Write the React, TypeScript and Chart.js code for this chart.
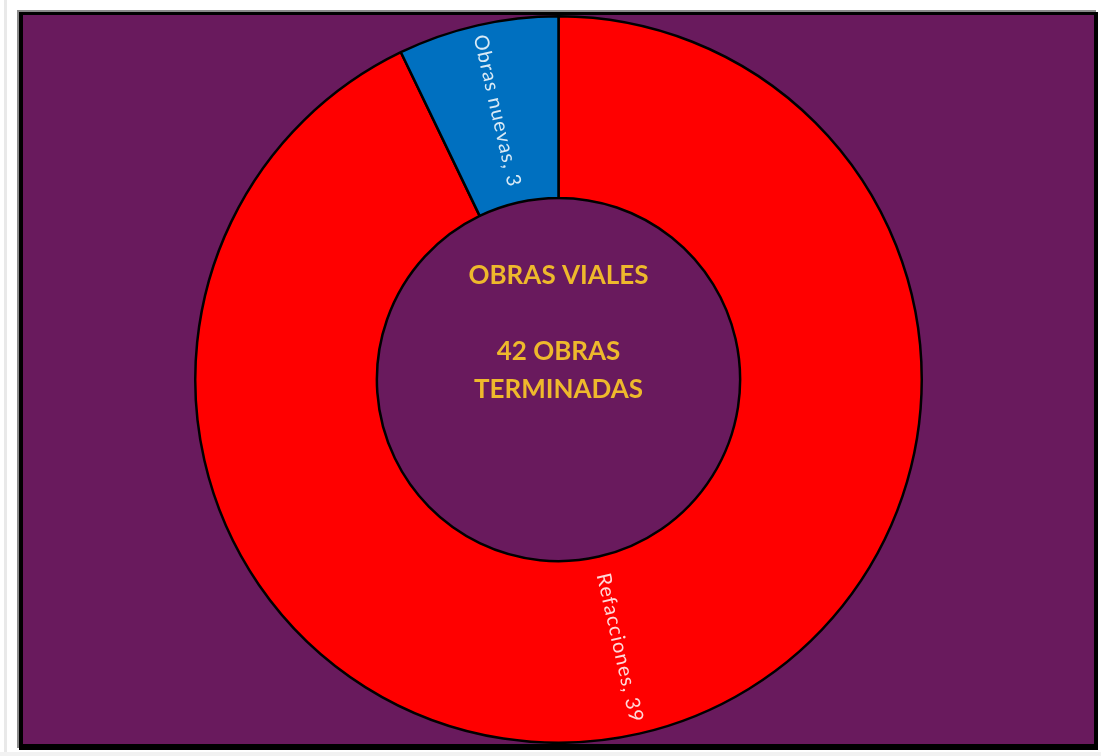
import React, { useEffect, useRef } from "react";
import { Chart, registerables } from "chart.js";

Chart.register(...registerables);

const categories = ["Refacciones", "Obras nuevas"];
const values = [39, 3];
const sliceColors = ["#ff0000", "#0070c0"];
const centerLines = ["OBRAS VIALES", "", "42 OBRAS", "TERMINADAS"];

const sliceLabelPlugin = {
  id: "sliceLabels",
  afterDatasetsDraw(chart: any) {
    const ctx = chart.ctx;
    const meta = chart.getDatasetMeta(0);
    const data = chart.data.datasets[0].data;
    meta.data.forEach((arc: any, i: number) => {
      const p = arc.getProps(["x", "y", "startAngle", "endAngle", "innerRadius", "outerRadius"], true);
      const mid = (p.startAngle + p.endAngle) / 2;
      const r = (p.innerRadius + p.outerRadius) / 2 + 3;
      const px = p.x + Math.cos(mid) * r;
      const py = p.y + Math.sin(mid) * r;
      let rot = mid;
      if (Math.sin(rot) < 0) rot += Math.PI;
      ctx.save();
      ctx.translate(px, py);
      ctx.rotate(rot);
      ctx.font = "20px Lato";
      (ctx as any).letterSpacing = "1px";
      ctx.fillStyle = "rgba(255,255,255,0.85)";
      ctx.textAlign = "center";
      ctx.textBaseline = "middle";
      ctx.fillText(`${chart.data.labels[i]}, ${data[i]}`, 0, 0);
      ctx.restore();
    });
  },
  afterDraw(chart: any) {
    const ctx = chart.ctx;
    const meta = chart.getDatasetMeta(0);
    const arc = meta.data[0];
    if (!arc) return;
    const { x, y } = arc.getProps(["x", "y"], true);
    ctx.save();
    ctx.font = "bold 26px Lato";
    ctx.fillStyle = "#eeb92c";
    ctx.textAlign = "center";
    ctx.textBaseline = "middle";
    centerLines.forEach((line, i) => {
      ctx.fillText(line, x, y - 104 + i * 38);
    });
    ctx.restore();
  },
};

export default function App() {
  const ref = useRef<HTMLCanvasElement | null>(null);
  useEffect(() => {
    if (!ref.current) return;
    const chart = new Chart(ref.current, {
      type: "doughnut",
      data: {
        labels: categories,
        datasets: [
          {
            data: values,
            backgroundColor: sliceColors,
            borderColor: "#000000",
            borderWidth: 2.5,
          },
        ],
      },
      options: {
        animation: false,
        responsive: false,
        maintainAspectRatio: false,
        cutout: "50%",
        layout: { padding: 0 },
        plugins: {
          legend: { display: false },
          tooltip: { enabled: false },
          title: { display: false },
        },
      },
      plugins: [sliceLabelPlugin],
    });
    return () => chart.destroy();
  }, []);

  return (
    <div style={{ position: "fixed", left: 0, top: 0, width: 1101, height: 756, background: "#ffffff", overflow: "hidden" }}>
      <div style={{ position: "absolute", left: 4, top: 0, width: 3, height: 756, background: "#e9e9e9" }} />
      <div style={{ position: "absolute", left: 0, top: 752, width: 1101, height: 4, background: "#f2f2f2" }} />
      <div
        style={{
          position: "absolute",
          left: 19,
          top: 12,
          width: 1071,
          height: 729,
          borderTop: "3px solid #000",
          borderLeft: "4px solid #000",
          borderRight: "4px solid #000",
          borderBottom: "6px solid #000",
          boxShadow: "-2px -2px 0 #8a8a8a",
          background: "#691a5d",
        }}
      >
        <canvas ref={ref} width={1071} height={729} style={{ display: "block", width: 1071, height: 729 }} />
      </div>
    </div>
  );
}
